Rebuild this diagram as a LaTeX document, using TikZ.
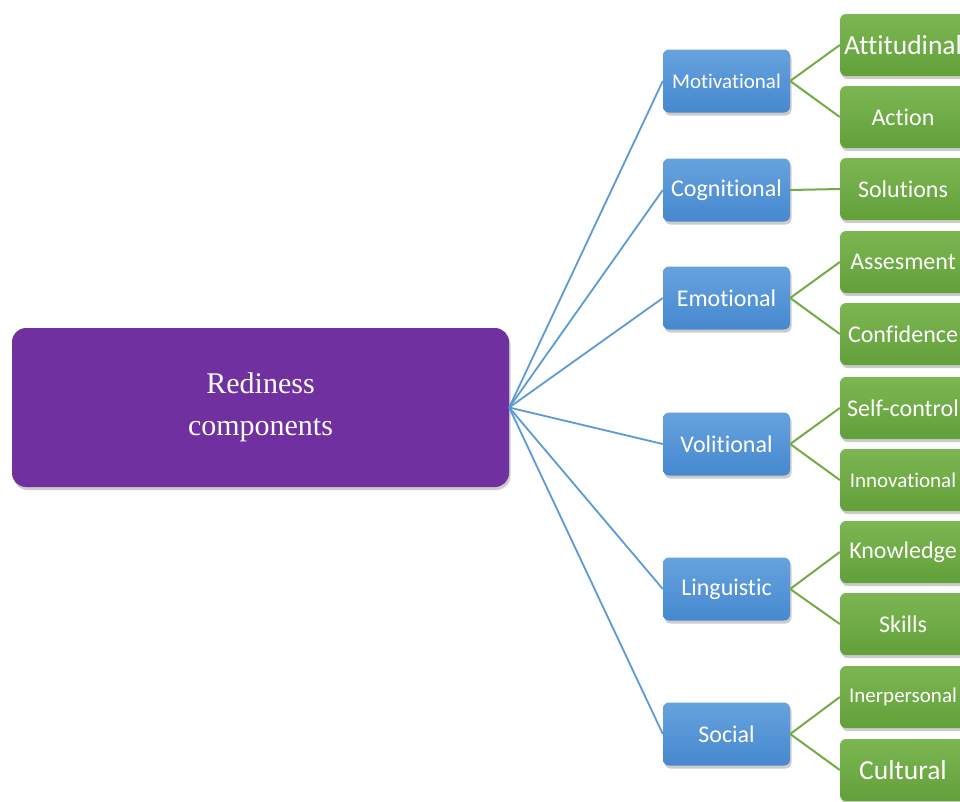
\documentclass[tikz,border=0pt]{standalone}
\usepackage{fontspec}
\setmainfont{Liberation Serif}
\newfontfamily\boxfont[Ligatures=NoCommon]{Carlito}
\usetikzlibrary{shadows}

\definecolor{rootpurple}{RGB}{112,48,160}
\definecolor{compbluetop}{RGB}{102,162,222}
\definecolor{compbluebot}{RGB}{70,136,207}
\definecolor{itemgreentop}{RGB}{124,182,82}
\definecolor{itemgreenbot}{RGB}{98,160,58}
\definecolor{linkblue}{RGB}{91,155,213}
\definecolor{linkgreen}{RGB}{112,173,71}

\begin{document}
\begin{tikzpicture}[x=1pt,y=-1pt,
  root/.style={fill=rootpurple, rounded corners=14pt, minimum width=497pt, minimum height=159pt,
    text=white, align=center, font=\fontsize{30}{42}\selectfont,
    drop shadow={opacity=0.4, shadow xshift=1.5pt, shadow yshift=-3pt}},
  comp/.style={rounded corners=6pt, minimum width=127pt, minimum height=63pt,
    top color=compbluetop, bottom color=compbluebot, text=white,
    font=\boxfont\fontsize{24}{27}\selectfont,
    drop shadow={opacity=0.4, shadow xshift=1.5pt, shadow yshift=-3pt}},
  item/.style={rounded corners=6pt, minimum width=126pt, minimum height=62pt,
    top color=itemgreentop, bottom color=itemgreenbot, text=white,
    font=\boxfont\fontsize{24}{27}\selectfont,
    drop shadow={opacity=0.4, shadow xshift=1.5pt, shadow yshift=-3pt}},
  big/.style={font=\boxfont\fontsize{27.5}{30}\selectfont},
  small/.style={font=\boxfont\fontsize{21}{24}\selectfont},
  blueline/.style={draw=linkblue, line width=1.8pt},
  greenline/.style={draw=linkgreen, line width=2pt}]
\useasboundingbox (0,0) rectangle (960,801);
\clip (0,0) rectangle (960,801);
%---root----------------------------------------------
\node[root] (root) at (260.5,407.5) {Rediness\\components};
%---components----------------------------------------
\node[comp,small] (mot) at (726.5,81) {Motivational};
\node[comp] (cog) at (726.5,190) {Cognitional};
\node[comp] (emo) at (726.5,298) {Emotional};
\node[comp] (vol) at (726.5,444) {Volitional};
\node[comp] (lin) at (726.5,589) {Linguistic};
\node[comp] (soc) at (726.5,734) {Social};
%---items---------------------------------------------
\node[item,big] (att) at (903,45) {Attitudinal};
\node[item] (act) at (903,117) {Action};
\node[item] (sol) at (903,189) {Solutions};
\node[item] (ass) at (903,262) {Assesment};
\node[item] (con) at (903,334) {Confidence};
\node[item] (sel) at (903,408) {Self-control};
\node[item,small] (inn) at (903,480) {Innovational};
\node[item] (kno) at (903,552) {Knowledge};
\node[item] (ski) at (903,624) {Skills};
\node[item,small] (int) at (903,697) {Inerpersonal};
\node[item,big] (cul) at (903,770) {Cultural};
%---connectors----------------------------------------
\foreach \c in {mot,cog,emo,vol,lin,soc}
  \draw[blueline] (root.east) -- (\c.west);
\draw[greenline] (att.west) -- (mot.east) -- (act.west);
\draw[greenline] (cog.east) -- (sol.west);
\draw[greenline] (ass.west) -- (emo.east) -- (con.west);
\draw[greenline] (sel.west) -- (vol.east) -- (inn.west);
\draw[greenline] (kno.west) -- (lin.east) -- (ski.west);
\draw[greenline] (int.west) -- (soc.east) -- (cul.west);
\end{tikzpicture}
\end{document}
